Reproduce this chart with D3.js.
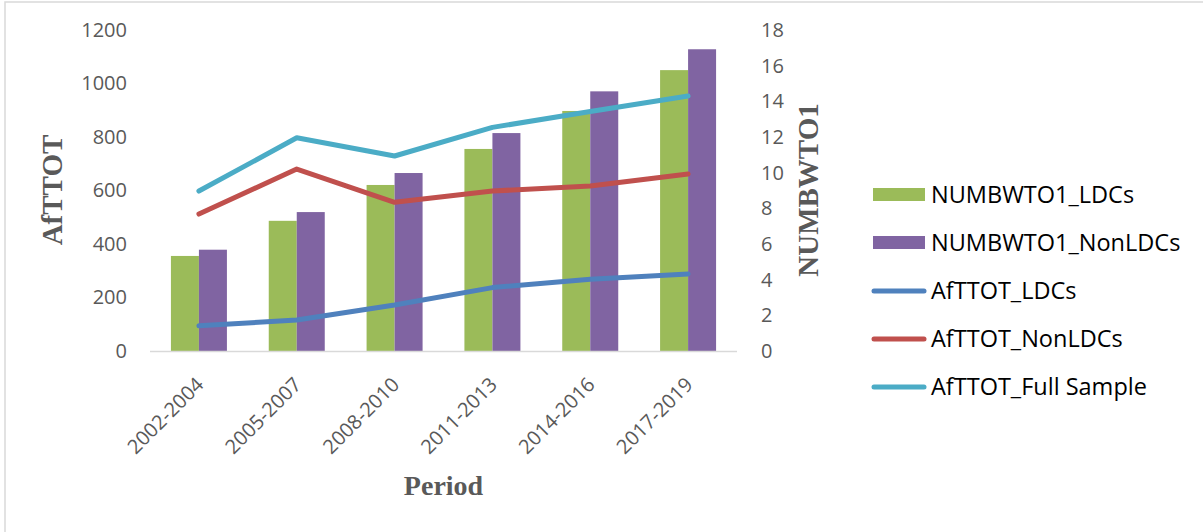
<!DOCTYPE html>
<html>
<head>
<meta charset="utf-8">
<script src="https://cdn.jsdelivr.net/npm/d3@7"></script>
<style>
  body { margin: 0; background: #fff; }
</style>
</head>
<body>
<div class="render"></div>
<script>
// data
var periods = ['2002-2004', '2005-2007', '2008-2010', '2011-2013', '2014-2016', '2017-2019'];
var numbwtoLDCs = [5.33, 7.3, 9.31, 11.33, 13.46, 15.75];
var numbwtoNonLDCs = [5.68, 7.79, 9.98, 12.22, 14.56, 16.92];
var afttotLDCs = [94, 116, 172, 237, 268, 288];
var afttotNonLDCs = [512, 680, 556, 598, 617, 662];
var afttotFull = [598, 797, 729, 836, 895, 953];
var leftTicks = [0, 200, 400, 600, 800, 1000, 1200];
var rightTicks = [0, 2, 4, 6, 8, 10, 12, 14, 16, 18];

var w = 1203, h = 532;
var plotLeft = 150, plotRight = 737, plotTop = 30, plotBottom = 351;

var svg = d3.select('.render').append('svg').attr('width', w).attr('height', h);

svg.append('rect').attr('x', 5).attr('y', 2).attr('width', 1220).attr('height', 560)
   .attr('fill', 'none').attr('stroke', '#d9d9d9').attr('stroke-width', 1.5);

var x = d3.scaleBand().domain(periods).range([plotLeft, plotRight]).paddingInner(0.4276).paddingOuter(0.2138);
var xInner = d3.scaleBand().domain(['ldc', 'nonldc']).range([0, x.bandwidth()]);
var yLeft = d3.scaleLinear().domain([0, 1200]).range([plotBottom, plotTop]);
var yRight = d3.scaleLinear().domain([0, 18]).range([plotBottom, plotTop]);

// bars
var bars = [
   { key: 'ldc', values: numbwtoLDCs, color: '#9bbb59', name: 'NUMBWTO1_LDCs' },
   { key: 'nonldc', values: numbwtoNonLDCs, color: '#8064a2', name: 'NUMBWTO1_NonLDCs' }
];
bars.forEach(function (s) {
   svg.append('g').selectAll('rect').data(s.values).enter().append('rect')
      .attr('x', function (d, i) { return x(periods[i]) + xInner(s.key); })
      .attr('y', function (d) { return yRight(d); })
      .attr('width', xInner.bandwidth())
      .attr('height', function (d) { return plotBottom - yRight(d); })
      .attr('fill', s.color);
});

// x axis line
svg.append('line').attr('x1', plotLeft).attr('x2', plotRight).attr('y1', plotBottom + 0.5).attr('y2', plotBottom + 0.5)
   .attr('stroke', '#d9d9d9').attr('stroke-width', 1.5);

// lines
var lines = [
   { values: afttotLDCs, color: '#4f81bd', name: 'AfTTOT_LDCs' },
   { values: afttotNonLDCs, color: '#c0504d', name: 'AfTTOT_NonLDCs' },
   { values: afttotFull, color: '#4bacc6', name: 'AfTTOT_Full Sample' }
];
var line = d3.line()
   .x(function (d, i) { return x(periods[i]) + x.bandwidth() / 2; })
   .y(function (d) { return yLeft(d); });
lines.forEach(function (s) {
   svg.append('path').datum(s.values).attr('d', line)
      .attr('fill', 'none').attr('stroke', s.color).attr('stroke-width', 5)
      .attr('stroke-linecap', 'round').attr('stroke-linejoin', 'round');
});

// axes
var leftAxis = d3.axisLeft(yLeft).tickValues(leftTicks).tickFormat(d3.format('d')).tickSize(0).tickPadding(23);
var gl = svg.append('g').attr('transform', 'translate(' + plotLeft + ',0)').call(leftAxis);
var rightAxis = d3.axisRight(yRight).tickValues(rightTicks).tickFormat(d3.format('d')).tickSize(0).tickPadding(24);
var gr = svg.append('g').attr('transform', 'translate(' + plotRight + ',0)').call(rightAxis);
[gl, gr].forEach(function (g) {
   g.select('.domain').remove();
   g.selectAll('text').attr('font-size', '20px').attr('fill', '#595959').attr('font-family', 'Open Sans, sans-serif');
});

svg.append('g').selectAll('text').data(periods).enter().append('text')
   .attr('transform', function (d) { return 'translate(' + (x(d) + x.bandwidth() / 2 + 1) + ',381)rotate(-45)'; })
   .attr('text-anchor', 'end').attr('dy', '0.35em')
   .attr('font-family', 'Open Sans, sans-serif').attr('font-size', '20px').attr('fill', '#595959')
   .text(function (d) { return d; });

// axis titles
var titleFont = 'Liberation Serif, Times New Roman, serif';
svg.append('text').text('AfTTOT').attr('transform', 'translate(62,190)rotate(-90)')
   .attr('text-anchor', 'middle').attr('font-family', titleFont).attr('font-weight', 'bold')
   .attr('font-size', '29px').attr('fill', '#595959');
svg.append('text').text('NUMBWTO1').attr('transform', 'translate(818,190)rotate(-90)')
   .attr('text-anchor', 'middle').attr('font-family', titleFont).attr('font-weight', 'bold')
   .attr('font-size', '29px').attr('fill', '#595959');
svg.append('text').text('Period').attr('x', (plotLeft + plotRight) / 2).attr('y', 495)
   .attr('text-anchor', 'middle').attr('font-family', titleFont).attr('font-weight', 'bold')
   .attr('font-size', '28px').attr('fill', '#595959');

// legend
var legendItems = bars.map(function (b) { return { name: b.name, color: b.color, type: 'bar' }; })
   .concat(lines.map(function (l) { return { name: l.name, color: l.color, type: 'line' }; }));
var lg = svg.append('g').selectAll('g').data(legendItems).enter().append('g')
   .attr('transform', function (d, i) { return 'translate(0,' + (195 + i * 48) + ')'; });
lg.filter(function (d) { return d.type === 'bar'; }).append('rect')
   .attr('x', 873).attr('y', -7).attr('width', 52).attr('height', 13).attr('fill', function (d) { return d.color; });
lg.filter(function (d) { return d.type === 'line'; }).append('line')
   .attr('x1', 874).attr('x2', 924).attr('y1', 0).attr('y2', 0)
   .attr('stroke', function (d) { return d.color; }).attr('stroke-width', 5).attr('stroke-linecap', 'round');
lg.append('text').attr('x', 931).attr('y', 0).attr('dy', '0.35em')
   .attr('font-family', 'Open Sans, sans-serif').attr('font-size', '23.5px').attr('fill', '#000')
   .text(function (d) { return d.name; });
</script>
</body>
</html>
